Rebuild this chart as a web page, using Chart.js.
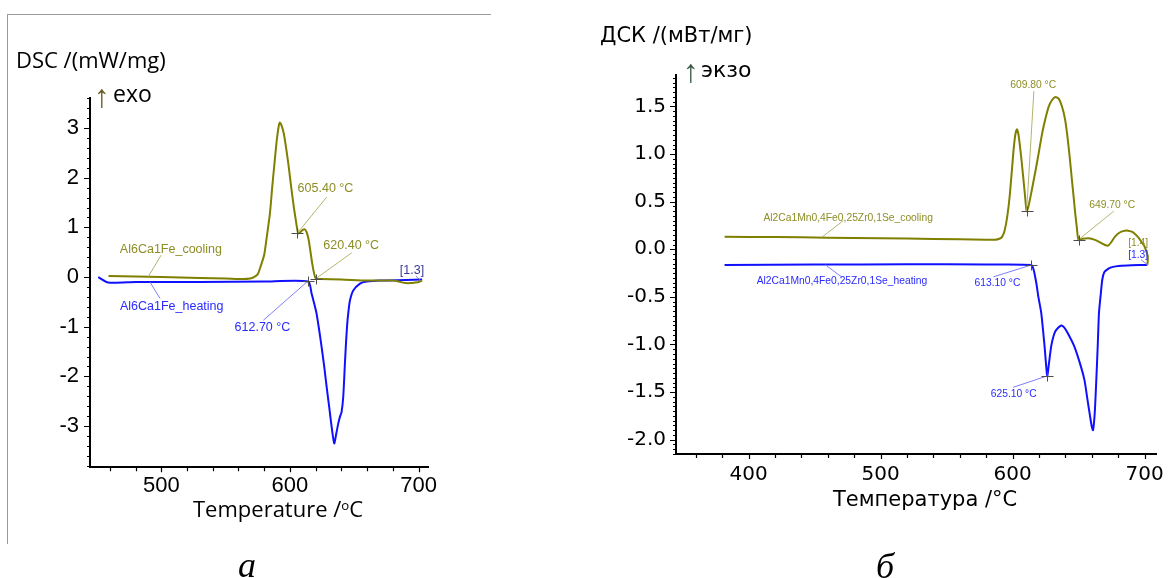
<!DOCTYPE html>
<html>
<head>
<meta charset="utf-8">
<script src="https://cdn.jsdelivr.net/npm/chart.js@4.4.1/dist/chart.umd.min.js"></script>
<style>
    html, body { margin: 0; padding: 0; background: #fff; }
    body { width: 1173px; height: 578px; position: relative; overflow: hidden; }
    canvas { position: absolute; top: 0; }
    .txt { position: absolute; white-space: nowrap; color: #000; line-height: 1; }
    .frame { position: absolute; left: 7px; top: 14px; width: 483px; height: 529px;
             border-top: 1px solid #9a9a9a; border-left: 1px solid #9a9a9a; }
    .os { font-family: 'Open Sans', sans-serif; }
    .dv { font-family: 'DejaVu Sans', sans-serif; }
    .ls { font-family: 'Liberation Sans', Arial, sans-serif; }
    .serif { font-family: 'Liberation Serif', 'Times New Roman', serif; font-style: italic; }
    .sup { font-size: 0.6em; position: relative; top: -0.55em; }
</style>
</head>
<body>
<div class="frame"></div>
<canvas id="chartA" width="490" height="578" style="left:0"></canvas>
<canvas id="chartB" width="683" height="578" style="left:490px"></canvas>

<div class="txt os" style="left:16px; top:48px; font-size:22px;">DSC /(mW/mg)</div>
<div class="txt ls" style="left:94px; top:80px; font-size:32px; color:#6b5a22;">↑</div>
<div class="txt os" style="left:113px; top:82px; font-size:23px;">exo</div>
<div class="txt os" style="left:193px; top:497px; font-size:22px;">Temperature /<span class="sup">o</span>C</div>
<div class="txt serif" style="left:238px; top:547px; font-size:36px;">a</div>

<div class="txt dv" style="left:600px; top:25px; font-size:21px;">ДСК /(мВт/мг)</div>
<div class="txt ls" style="left:683px; top:55px; font-size:32px; color:#3f5a48;">↑</div>
<div class="txt dv" style="left:701px; top:59px; font-size:22px;">экзо</div>
<div class="txt dv" style="left:833px; top:489px; font-size:21px;">Температура /°C</div>
<div class="txt serif" style="left:876px; top:548px; font-size:36px;">б</div>

<script>
// ========================================
// ДСК кривые - данные
// ========================================

// (а) Al6Ca1Fe
const coolTempA = [459, 480, 500, 530, 550, 564, 569, 572, 575, 577, 580, 582.3, 584.5, 586.2, 588, 589.5, 591, 592.1, 593.5, 595.2, 597, 599.1, 601, 603, 604.8, 606.4, 608, 609.5, 611.5, 613, 614.6, 616, 617.3, 618.7, 619.8, 621.5, 623.7, 640, 660, 680.7, 685.9, 690, 693.6, 697, 700.1, 702.7];
const coolDscA = [0.02, 0.01, 0.0, -0.02, -0.03, -0.04, -0.03, 0.0, 0.06, 0.2, 0.45, 0.87, 1.3, 1.81, 2.3, 2.7, 3.0, 3.11, 3.05, 2.89, 2.6, 2.21, 1.8, 1.41, 1.1, 0.88, 0.9, 0.94, 0.96, 0.9, 0.74, 0.5, 0.27, 0.08, -0.02, -0.04, -0.04, -0.05, -0.07, -0.07, -0.1, -0.12, -0.12, -0.11, -0.1, -0.07];
const heatTempA = [451, 458.7, 480, 530, 580, 614.2, 616.8, 618.7, 620.7, 622.6, 624.6, 626.6, 628.5, 630.5, 632.4, 634.4, 636, 637.5, 639, 640.1, 641.4, 642.7, 643.6, 644.5, 645.5, 646.6, 649.2, 654.4, 659.6, 670, 690, 702.7];
const heatDscA = [0.0, -0.11, -0.1, -0.1, -0.09, -0.09, -0.33, -0.52, -0.74, -1.05, -1.41, -1.8, -2.21, -2.62, -3.02, -3.35, -3.15, -2.95, -2.8, -2.72, -2.41, -1.74, -1.3, -0.94, -0.68, -0.47, -0.27, -0.13, -0.09, -0.07, -0.06, -0.05];
const xTicksA = [500, 600, 700];
const xLabelsA = ['500', '600', '700'];
const yTicksA = [3, 2, 1, 0, -1, -2, -3];
const yLabelsA = ['3', '2', '1', '0', '-1', '-2', '-3'];

// (б) Al2Ca1Mn0,4Fe0,25Zr0,1Se
const coolTempB = [381.8, 420, 460, 500, 540, 580, 586.7, 590, 592, 594, 596, 598, 600.5, 602, 603.2, 604.5, 606.7, 609.2, 610.6, 612, 614.5, 617.4, 620, 622.4, 625, 627.4, 630, 632.4, 635, 637.4, 639.5, 641.2, 643, 644.9, 646.2, 647.4, 648.7, 649.9, 653, 657.4, 662.4, 667.4, 670, 672.4, 675, 677.4, 680, 682.4, 685, 687.4, 691, 694.9, 698, 700, 701.5, 702.4, 702.3, 702];
const coolDscB = [0.132, 0.128, 0.122, 0.116, 0.108, 0.1, 0.1, 0.11, 0.13, 0.2, 0.35, 0.59, 1.01, 1.2, 1.26, 1.2, 0.94, 0.59, 0.4, 0.45, 0.62, 0.83, 1.03, 1.22, 1.38, 1.5, 1.57, 1.6, 1.58, 1.5, 1.38, 1.22, 1.0, 0.73, 0.55, 0.38, 0.22, 0.1, 0.11, 0.115, 0.098, 0.063, 0.045, 0.038, 0.08, 0.13, 0.165, 0.185, 0.195, 0.195, 0.18, 0.13, 0.07, 0.027, -0.03, -0.078, -0.13, -0.165];
const heatTempB = [381.8, 450, 520, 580, 614.2, 616, 618, 619.5, 621.7, 624.2, 626.2, 627.5, 629.2, 631, 632.9, 636.7, 639, 641.7, 646.7, 651.7, 654.5, 656.7, 658.5, 659.8, 660.9, 662.2, 663.4, 664.5, 665.4, 666.7, 667.9, 669.5, 672.9, 676, 680.4, 690, 702];
const heatDscB = [-0.165, -0.16, -0.158, -0.16, -0.165, -0.22, -0.36, -0.5, -0.67, -1.02, -1.33, -1.2, -1.02, -0.91, -0.85, -0.8, -0.82, -0.88, -1.02, -1.23, -1.38, -1.58, -1.74, -1.85, -1.9, -1.72, -1.37, -1.0, -0.67, -0.48, -0.32, -0.24, -0.2, -0.185, -0.175, -0.168, -0.165];
const xTicksB = [400, 500, 600, 700];
const xLabelsB = ['400', '500', '600', '700'];
const yTicksB = [1.5, 1.0, 0.5, 0.0, -0.5, -1.0, -1.5, -2.0];
const yLabelsB = ['1.5', '1.0', '0.5', '0.0', '-0.5', '-1.0', '-1.5', '-2.0'];

// 주석: [텍스트, 색, 텍스트 위치(T, DSC), 지시선 시작, 지시선 끝]
const OLIVE = '#7f7f00';
const BLUE = '#1010ff';
const OLIVE_TXT = '#8d8d26';
const BLUE_TXT = '#2a2aff';

const notesA = [
    ['605.40 °C', OLIVE_TXT, [627.6, 1.78], [628.5, 1.61], [605.6, 0.88]],
    ['620.40 °C', OLIVE_TXT, [647.6, 0.64], [648.0, 0.49], [620.2, -0.03]],
    ['Al6Ca1Fe_cooling', OLIVE_TXT, [507.5, 0.56], [499.8, 0.44], [489.9, 0.01]],
    ['Al6Ca1Fe_heating', BLUE_TXT, [508.1, -0.60], [499.0, -0.43], [491.2, -0.10]],
    ['612.70 °C', BLUE_TXT, [578.6, -1.01], [579.3, -0.87], [614.0, -0.08]],
    ['[1.3]', '#3a3a9a', [694.8, 0.14], [697.9, 0.02], [701.0, -0.06]]
];
const marksA = [[605.6, 0.88], [620.2, -0.03], [614.0, -0.08]];

const notesB = [
    ['609.80 °C', OLIVE_TXT, [615.6, 1.72], [616.1, 1.66], [610.6, 0.40]],
    ['649.70 °C', OLIVE_TXT, [675.4, 0.46], [676.6, 0.40], [649.9, 0.10]],
    ['Al2Ca1Mn0,4Fe0,25Zr0,1Se_cooling', OLIVE_TXT, [475.4, 0.33], [471.7, 0.30], [455.4, 0.126]],
    ['Al2Ca1Mn0,4Fe0,25Zr0,1Se_heating', BLUE_TXT, [470.7, -0.34], [470.4, -0.29], [458.0, -0.162]],
    ['613.10 °C', BLUE_TXT, [588.5, -0.36], [585.4, -0.29], [614.2, -0.165]],
    ['625.10 °C', BLUE_TXT, [600.8, -1.52], [600.4, -1.45], [626.2, -1.33]],
    ['[1.4]', OLIVE_TXT, [695.1, 0.063], null, null],
    ['[1.3]', BLUE_TXT, [695.1, -0.06], [697.3, -0.11], [702.3, -0.165]]
];
const marksB = [[610.6, 0.40], [649.9, 0.10], [614.2, -0.165], [626.2, -1.33]];

// ========================================
// 공통 함수
// ========================================

function toPoints(xs, ys) {
    return xs.map((x, i) => ({ x: x, y: ys[i] }));
}

// 보조 눈금 + 주 눈금 표시
function tickMarksPlugin(o) {
    return {
        id: 'tickMarks',
        afterDraw(chart) {
            const ctx = chart.ctx;
            const xs = chart.scales.x, ys = chart.scales.y;
            const area = chart.chartArea;
            ctx.save();
            ctx.strokeStyle = '#000';
            ctx.lineWidth = 1.2;
            ctx.beginPath();
            for (let i = Math.ceil(xs.min / o.xMinor); i * o.xMinor <= xs.max; i++) {
                const v = i * o.xMinor;
                const major = Math.abs(v / o.xMajor - Math.round(v / o.xMajor)) < 1e-6;
                const px = Math.round(xs.getPixelForValue(v)) + 0.5;
                ctx.moveTo(px, area.bottom);
                ctx.lineTo(px, area.bottom + (major ? 5 : 4));
            }
            for (let i = Math.ceil(ys.min / o.yMinor - 1e-6); i * o.yMinor <= ys.max + 1e-9; i++) {
                const v = i * o.yMinor;
                const major = Math.abs(v / o.yMajor - Math.round(v / o.yMajor)) < 1e-6;
                const py = Math.round(ys.getPixelForValue(v)) + 0.5;
                ctx.moveTo(area.left, py);
                ctx.lineTo(area.left - (major ? 6 : 3), py);
            }
            ctx.stroke();
            ctx.restore();
        }
    };
}

// 온도 주석 (지시선, 십자 표시, 텍스트)
function notesPlugin(notes, marks, fontSize) {
    return {
        id: 'dscNotes',
        afterDatasetsDraw(chart) {
            const ctx = chart.ctx;
            const xs = chart.scales.x, ys = chart.scales.y;
            const P = (p) => [xs.getPixelForValue(p[0]), ys.getPixelForValue(p[1])];
            ctx.save();
            ctx.lineWidth = 1;
            notes.forEach(n => {
                if (!n[3]) return;
                const a = P(n[3]), b = P(n[4]);
                ctx.strokeStyle = n[1] === BLUE_TXT ? '#7f7fff' : (n[1] === OLIVE_TXT ? '#b3b36e' : '#8080c0');
                ctx.beginPath();
                ctx.moveTo(a[0], a[1]);
                ctx.lineTo(b[0], b[1]);
                ctx.stroke();
            });
            ctx.strokeStyle = '#4d4d4d';
            ctx.beginPath();
            marks.forEach(m => {
                const c = P(m);
                const cx = Math.round(c[0]) + 0.5, cy = Math.round(c[1]) + 0.5;
                ctx.moveTo(cx - 6, cy);
                ctx.lineTo(cx + 6, cy);
                ctx.moveTo(cx, cy - 5);
                ctx.lineTo(cx, cy + 5);
            });
            ctx.stroke();
            ctx.font = fontSize + "px 'Liberation Sans', Arial, sans-serif";
            ctx.textAlign = 'center';
            ctx.textBaseline = 'middle';
            notes.forEach(n => {
                const c = P(n[2]);
                ctx.fillStyle = n[1];
                ctx.fillText(n[0], c[0], c[1]);
            });
            ctx.restore();
        }
    };
}

// DSC 차트 생성 헬퍼 함수
function createDscChart(canvasId, o) {
    const ctx = document.getElementById(canvasId);
    if (!ctx) return;

    return new Chart(ctx, {
        type: 'scatter',
        data: {
            datasets: [
                {
                    data: toPoints(o.coolT, o.coolY),
                    borderColor: OLIVE,
                    borderWidth: 2,
                    showLine: true,
                    pointRadius: 0,
                    tension: 0.2
                },
                {
                    data: toPoints(o.heatT, o.heatY),
                    borderColor: BLUE,
                    borderWidth: 2,
                    showLine: true,
                    pointRadius: 0,
                    tension: 0.2
                }
            ]
        },
        options: {
            responsive: false,
            animation: false,
            devicePixelRatio: 1,
            layout: { padding: o.pad },
            plugins: {
                legend: { display: false },
                tooltip: { enabled: false }
            },
            scales: {
                x: {
                    type: 'linear',
                    min: o.xMin,
                    max: o.xMax,
                    grid: { display: false, drawTicks: false },
                    border: { display: true, color: '#000', width: 2 },
                    ticks: {
                        padding: o.xPad,
                        color: '#000',
                        font: { family: o.tickFont, size: o.tickSize },
                        callback: (v, i) => o.xLabels[i]
                    },
                    afterBuildTicks: (s) => { s.ticks = o.xTicks.map(v => ({ value: v })); },
                    afterFit: (s) => { s.height = 40; }
                },
                y: {
                    type: 'linear',
                    min: o.yMin,
                    max: o.yMax,
                    grid: { display: false, drawTicks: false },
                    border: { display: true, color: '#000', width: 2 },
                    ticks: {
                        padding: o.yPad,
                        color: '#000',
                        font: { family: o.tickFont, size: o.tickSize },
                        callback: (v, i) => o.yLabels[i]
                    },
                    afterBuildTicks: (s) => { s.ticks = o.yTicks.map(v => ({ value: v })); },
                    afterFit: (s) => { s.width = 60; }
                }
            }
        },
        plugins: [tickMarksPlugin(o), notesPlugin(o.notes, o.marks, o.noteSize)]
    });
}

// ========================================
// 차트 그리기
// ========================================
createDscChart('chartA', {
    coolT: coolTempA, coolY: coolDscA, heatT: heatTempA, heatY: heatDscA,
    xMin: 444.6, xMax: 707.5, yMin: -3.83, yMax: 3.6,
    xTicks: xTicksA, xLabels: xLabelsA, yTicks: yTicksA, yLabels: yLabelsA,
    xMajor: 100, xMinor: 20, yMajor: 1, yMinor: 0.2,
    pad: { left: 30, top: 98.3, right: 61.7, bottom: 70.7 },
    xPad: 5, yPad: 11,
    tickFont: "'Liberation Sans', Arial, sans-serif", tickSize: 22,
    notes: notesA, marks: marksA, noteSize: 12.5
});

createDscChart('chartB', {
    coolT: coolTempB, coolY: coolDscB, heatT: heatTempB, heatY: heatDscB,
    xMin: 345, xMax: 708.8, yMin: -2.15, yMax: 1.83,
    xTicks: xTicksB, xLabels: xLabelsB, yTicks: yTicksB, yLabels: yLabelsB,
    xMajor: 100, xMinor: 20, yMajor: 0.5, yMinor: 0.05,
    pad: { left: 126, top: 75, right: 11.3, bottom: 84 },
    xPad: 9, yPad: 10,
    tickFont: "'DejaVu Sans', sans-serif", tickSize: 20,
    notes: notesB, marks: marksB, noteSize: 10.3
});
</script>
</body>
</html>
